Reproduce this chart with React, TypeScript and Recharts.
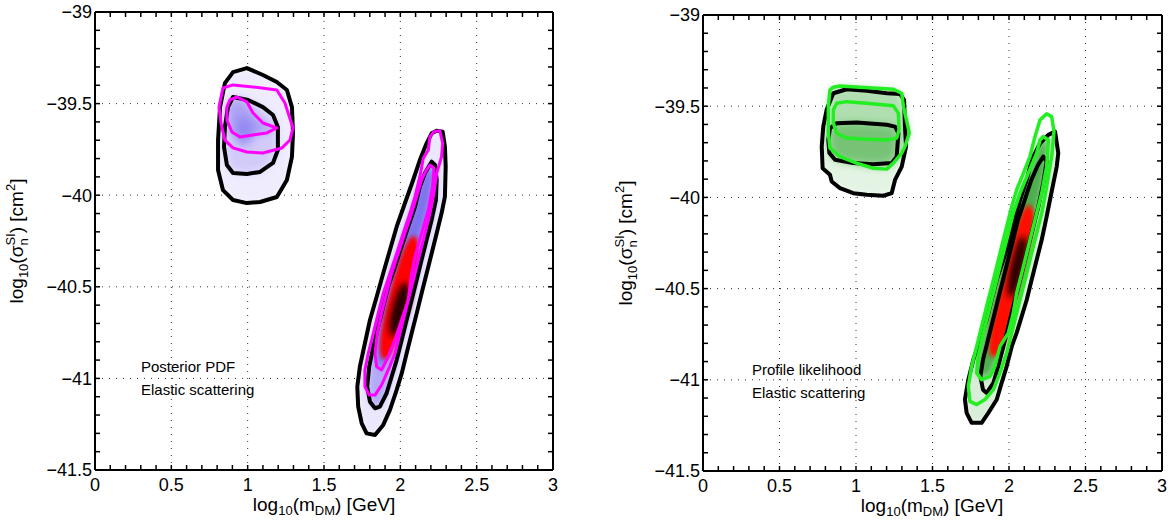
import React from 'react'
import { ScatterChart, Scatter, XAxis, YAxis, ReferenceLine } from 'recharts'

type P = [number, number]

const xTicks = [0, 0.1, 0.2, 0.3, 0.4, 0.5, 0.6, 0.7, 0.8, 0.9, 1, 1.1, 1.2, 1.3, 1.4, 1.5, 1.6, 1.7, 1.8, 1.9, 2, 2.1, 2.2, 2.3, 2.4, 2.5, 2.6, 2.7, 2.8, 2.9, 3]
const xMajor = [0, 0.5, 1, 1.5, 2, 2.5, 3]
const yTicks = [-41.5, -41.4, -41.3, -41.2, -41.1, -41, -40.9, -40.8, -40.7, -40.6, -40.5, -40.4, -40.3, -40.2, -40.1, -40, -39.9, -39.8, -39.7, -39.6, -39.5, -39.4, -39.3, -39.2, -39.1, -39]
const yMajor = [-41.5, -41, -40.5, -40, -39.5, -39]
const xGrid = [0.5, 1, 1.5, 2, 2.5]
const yGrid = [-39.5, -40, -40.5, -41]

// ---- posterior pdf (left) ----
const leftBlobOuter: P[] = [[0.904, -39.328], [0.995, -39.306], [1.1, -39.344], [1.191, -39.382], [1.257, -39.426], [1.29, -39.519], [1.297, -39.66], [1.29, -39.791], [1.257, -39.917], [1.191, -40.01], [1.081, -40.037], [0.995, -40.043], [0.904, -40.026], [0.838, -39.972], [0.806, -39.862], [0.806, -39.699], [0.819, -39.519], [0.851, -39.388]]
const leftBlobInner: P[] = [[0.904, -39.464], [1.002, -39.48], [1.1, -39.519], [1.166, -39.562], [1.198, -39.628], [1.198, -39.753], [1.166, -39.824], [1.081, -39.873], [0.995, -39.884], [0.904, -39.879], [0.864, -39.835], [0.845, -39.737], [0.851, -39.628], [0.871, -39.519]]
const leftBlobMagOuter: P[] = [[0.838, -39.415], [0.904, -39.398], [1.035, -39.409], [1.191, -39.426], [1.244, -39.497], [1.297, -39.633], [1.277, -39.699], [1.225, -39.742], [1.1, -39.77], [0.995, -39.764], [0.904, -39.742], [0.851, -39.699], [0.825, -39.606], [0.812, -39.519]]
const leftBlobMagInner: P[] = [[0.884, -39.48], [0.93, -39.464], [0.995, -39.491], [1.035, -39.551], [1.1, -39.606], [1.191, -39.633], [1.126, -39.66], [1.035, -39.671], [0.95, -39.682], [0.897, -39.655], [0.864, -39.59], [0.864, -39.519]]
const leftBlobCore: P[] = [[0.93, -39.56], [1.0, -39.57], [1.06, -39.64], [1.02, -39.72], [0.95, -39.74], [0.9, -39.68]]

const leftStreakOuter: P[] = [[2.238, -39.648], [2.277, -39.653], [2.292, -39.735], [2.297, -39.844], [2.292, -40.008], [2.27, -40.099], [2.238, -40.208], [2.205, -40.318], [2.172, -40.427], [2.139, -40.536], [2.107, -40.645], [2.074, -40.754], [2.041, -40.864], [2.009, -40.973], [1.976, -41.063], [1.932, -41.172], [1.888, -41.254], [1.834, -41.309], [1.779, -41.3], [1.747, -41.245], [1.724, -41.154], [1.718, -41.045], [1.735, -40.936], [1.768, -40.808], [1.801, -40.681], [1.845, -40.554], [1.888, -40.426], [1.932, -40.299], [1.976, -40.172], [2.03, -40.044], [2.084, -39.917], [2.128, -39.808], [2.172, -39.717], [2.205, -39.662]]
const leftStreakInner: P[] = [[2.205, -39.817], [2.227, -39.835], [2.238, -39.917], [2.233, -40.026], [2.205, -40.135], [2.172, -40.245], [2.139, -40.354], [2.107, -40.463], [2.074, -40.572], [2.041, -40.681], [2.009, -40.79], [1.976, -40.9], [1.943, -40.991], [1.91, -41.081], [1.866, -41.154], [1.834, -41.163], [1.801, -41.127], [1.783, -41.045], [1.796, -40.936], [1.823, -40.827], [1.855, -40.718], [1.888, -40.609], [1.921, -40.499], [1.965, -40.39], [2.008, -40.281], [2.052, -40.172], [2.096, -40.063], [2.128, -39.954], [2.161, -39.88]]
const leftStreakMagOuter: P[] = [[2.22, -39.653], [2.259, -39.648], [2.277, -39.717], [2.27, -39.79], [2.238, -39.88], [2.22, -39.99], [2.194, -40.099], [2.161, -40.208], [2.128, -40.318], [2.096, -40.427], [2.063, -40.536], [2.03, -40.645], [1.997, -40.754], [1.965, -40.863], [1.921, -40.954], [1.877, -41.036], [1.834, -41.091], [1.796, -41.091], [1.768, -41.045], [1.768, -40.954], [1.79, -40.863], [1.823, -40.754], [1.855, -40.645], [1.888, -40.536], [1.932, -40.427], [1.976, -40.318], [2.019, -40.208], [2.063, -40.099], [2.096, -40.008], [2.128, -39.899], [2.15, -39.799], [2.183, -39.753], [2.194, -39.681]]
const leftStreakMagInner: P[] = [[2.194, -39.835], [2.22, -39.853], [2.211, -39.954], [2.183, -40.081], [2.139, -40.208], [2.096, -40.336], [2.074, -40.427], [2.052, -40.572], [2.008, -40.681], [1.965, -40.79], [1.921, -40.881], [1.877, -40.954], [1.845, -40.936], [1.834, -40.863], [1.849, -40.754], [1.877, -40.645], [1.91, -40.536], [1.943, -40.427], [1.986, -40.318], [2.03, -40.208], [2.074, -40.099], [2.107, -40.008], [2.139, -39.917], [2.172, -39.862]]
const leftCoreRed: P[] = [[2.09, -40.2], [2.13, -40.27], [2.11, -40.42], [2.075, -40.57], [2.03, -40.69], [1.975, -40.8], [1.92, -40.91], [1.862, -40.89], [1.865, -40.77], [1.895, -40.65], [1.93, -40.53], [1.975, -40.4], [2.03, -40.27]]
const leftCoreDark: P[] = [[2.04, -40.46], [2.07, -40.53], [2.035, -40.65], [1.99, -40.75], [1.94, -40.785], [1.92, -40.72], [1.95, -40.6], [1.99, -40.5]]

// ---- profile likelihood (right) ----
const rightBlobOuter: P[] = [[0.852, -39.429], [0.939, -39.407], [1.07, -39.415], [1.201, -39.429], [1.288, -39.433], [1.314, -39.465], [1.32, -39.612], [1.327, -39.721], [1.299, -39.831], [1.255, -39.904], [1.233, -39.977], [1.179, -39.991], [1.07, -39.986], [0.982, -39.977], [0.895, -39.949], [0.841, -39.913], [0.83, -39.876], [0.782, -39.84], [0.776, -39.721], [0.786, -39.612], [0.808, -39.52]]
const rightBlobInner: P[] = [[0.874, -39.593], [1.004, -39.59], [1.201, -39.602], [1.255, -39.612], [1.277, -39.648], [1.266, -39.776], [1.233, -39.812], [1.113, -39.818], [0.982, -39.812], [0.863, -39.794], [0.826, -39.757], [0.819, -39.685], [0.83, -39.621]]
const rightBlobGreenOuter: P[] = [[0.852, -39.396], [0.895, -39.389], [1.026, -39.396], [1.244, -39.407], [1.299, -39.429], [1.31, -39.502], [1.342, -39.621], [1.348, -39.648], [1.32, -39.721], [1.299, -39.757], [1.244, -39.812], [1.201, -39.845], [1.113, -39.84], [1.004, -39.812], [0.895, -39.776], [0.83, -39.73], [0.819, -39.648], [0.819, -39.502], [0.83, -39.411]]
const rightBlobGreenInner: P[] = [[0.874, -39.484], [0.939, -39.475], [1.07, -39.484], [1.244, -39.498], [1.277, -39.538], [1.281, -39.63], [1.266, -39.675], [1.201, -39.685], [1.07, -39.681], [0.939, -39.675], [0.874, -39.648], [0.852, -39.593], [0.852, -39.52]]

const rightStreakOuter: P[] = [[2.301, -39.639], [2.322, -39.757], [2.312, -39.831], [2.29, -39.922], [2.268, -40.013], [2.246, -40.105], [2.214, -40.232], [2.181, -40.342], [2.148, -40.451], [2.116, -40.561], [2.083, -40.652], [2.05, -40.743], [2.018, -40.817], [1.985, -40.926], [1.952, -41.017], [1.92, -41.108], [1.865, -41.181], [1.821, -41.236], [1.756, -41.236], [1.723, -41.181], [1.712, -41.108], [1.734, -40.999], [1.767, -40.89], [1.81, -40.78], [1.854, -40.67], [1.887, -40.561], [1.92, -40.451], [1.963, -40.342], [2.007, -40.232], [2.039, -40.123], [2.072, -40.013], [2.116, -39.904], [2.148, -39.794], [2.203, -39.703], [2.257, -39.657]]
const rightStreakInner: P[] = [[2.224, -39.776], [2.246, -39.803], [2.224, -39.922], [2.192, -40.05], [2.159, -40.159], [2.126, -40.269], [2.094, -40.378], [2.061, -40.488], [2.028, -40.597], [1.996, -40.707], [1.963, -40.817], [1.93, -40.926], [1.898, -41.017], [1.854, -41.072], [1.83, -41.054], [1.813, -40.981], [1.83, -40.89], [1.863, -40.78], [1.896, -40.67], [1.928, -40.561], [1.961, -40.451], [1.994, -40.342], [2.027, -40.232], [2.059, -40.123], [2.103, -40.013], [2.146, -39.904], [2.19, -39.821]]
const rightStreakGreenOuter: P[] = [[2.246, -39.542], [2.279, -39.557], [2.294, -39.639], [2.279, -39.776], [2.257, -39.885], [2.235, -39.995], [2.214, -40.086], [2.181, -40.196], [2.148, -40.305], [2.116, -40.415], [2.083, -40.524], [2.05, -40.634], [2.018, -40.743], [1.985, -40.853], [1.941, -40.962], [1.898, -41.054], [1.843, -41.108], [1.789, -41.136], [1.745, -41.118], [1.734, -41.036], [1.756, -40.926], [1.789, -40.817], [1.821, -40.707], [1.854, -40.597], [1.887, -40.488], [1.92, -40.378], [1.952, -40.269], [1.985, -40.159], [2.018, -40.05], [2.05, -39.958], [2.094, -39.867], [2.137, -39.776], [2.17, -39.666], [2.203, -39.575]]
const rightStreakGreenInner: P[] = [[2.224, -39.666], [2.257, -39.685], [2.246, -39.831], [2.214, -39.977], [2.181, -40.086], [2.148, -40.196], [2.116, -40.305], [2.083, -40.415], [2.05, -40.524], [2.028, -40.634], [1.996, -40.743], [1.941, -40.817], [1.908, -40.926], [1.876, -40.981], [1.821, -40.999], [1.789, -40.962], [1.799, -40.871], [1.832, -40.743], [1.865, -40.634], [1.898, -40.524], [1.93, -40.415], [1.963, -40.305], [1.996, -40.196], [2.028, -40.086], [2.072, -39.977], [2.126, -39.867], [2.181, -39.757], [2.203, -39.685]]
const rightCoreRed: P[] = [[2.13, -40.02], [2.172, -40.08], [2.16, -40.196], [2.128, -40.305], [2.095, -40.415], [2.062, -40.524], [2.03, -40.634], [1.997, -40.743], [1.962, -40.83], [1.905, -40.89], [1.862, -40.86], [1.873, -40.743], [1.906, -40.634], [1.94, -40.524], [1.973, -40.415], [2.006, -40.305], [2.04, -40.196], [2.075, -40.09]]
const rightCoreDark: P[] = [[2.094, -40.2], [2.125, -40.25], [2.092, -40.378], [2.058, -40.49], [2.02, -40.56], [1.988, -40.54], [1.997, -40.433], [2.03, -40.323], [2.058, -40.24]]

const FONT = '"Liberation Sans", Arial, Helvetica, sans-serif'
const axisStyle = { stroke: '#000', strokeWidth: 2 }
const TICK = 5

const pts = (a: P[]) => a.map(([x, y]) => ({ x, y }))
const noDot = () => <g />
const fmtY = (v: number) => '\u2212' + String(Math.abs(v))

function BottomTick({ x, y, payload }: any) {
  const major = xMajor.includes(payload.value)
  return (
    <g>
      <line x1={x} x2={x} y1={y} y2={y - TICK} stroke="#000" strokeWidth={1.5} />
      {major && <text x={x} y={y + 21} textAnchor="middle" fontSize={18} fontFamily={FONT} fill="#000">{String(payload.value)}</text>}
    </g>
  )
}
function TopTick({ x, y }: any) {
  return <line x1={x} x2={x} y1={y} y2={y + TICK} stroke="#000" strokeWidth={1.5} />
}
function LeftTick({ x, y, payload }: any) {
  const major = yMajor.includes(payload.value)
  return (
    <g>
      <line x1={x} x2={x + TICK} y1={y} y2={y} stroke="#000" strokeWidth={1.5} />
      {major && <text x={x - 3} y={y} dy="0.36em" textAnchor="end" fontSize={18} fontFamily={FONT} fill="#000">{fmtY(payload.value)}</text>}
    </g>
  )
}
function RightTick({ x, y }: any) {
  return <line x1={x} x2={x - TICK} y1={y} y2={y} stroke="#000" strokeWidth={1.5} />
}

type Fill = { d: P[]; fill: string; blur: number; op?: number }
type Line = { d: P[]; stroke: string; w: number }

function Panel({ left, width, margin, fills, lines }: { left: number; width: number; margin: any; fills: Fill[]; lines: Line[] }) {
  return (
    <div style={{ position: 'absolute', left, top: 0 }}>
      <ScatterChart width={width} height={520} margin={margin}>
        <XAxis xAxisId="b" dataKey="x" type="number" domain={[0, 3]} allowDataOverflow ticks={xTicks} interval={0}
          height={10} tickSize={0} tickMargin={0} tickLine={false} axisLine={axisStyle} tick={(p: any) => <BottomTick {...p} />} />
        <XAxis xAxisId="t" orientation="top" dataKey="x" type="number" domain={[0, 3]} allowDataOverflow ticks={xTicks} interval={0}
          height={10} tickSize={0} tickMargin={0} tickLine={false} axisLine={axisStyle} tick={(p: any) => <TopTick {...p} />} />
        <YAxis yAxisId="l" dataKey="y" type="number" domain={[-41.5, -39]} allowDataOverflow ticks={yTicks} interval={0}
          width={10} tickSize={0} tickMargin={0} tickLine={false} axisLine={axisStyle} tick={(p: any) => <LeftTick {...p} />} />
        <YAxis yAxisId="r" orientation="right" dataKey="y" type="number" domain={[-41.5, -39]} allowDataOverflow ticks={yTicks} interval={0}
          width={10} tickSize={0} tickMargin={0} tickLine={false} axisLine={axisStyle} tick={(p: any) => <RightTick {...p} />} />
        {fills.map((f, i) => (
          <Scatter key={'f' + i} xAxisId="b" yAxisId="l" data={pts(f.d)} shape={noDot} isAnimationActive={false}
            line={{ stroke: 'none', fill: f.fill, fillOpacity: f.op ?? 1, filter: `url(#blur${f.blur})` }} lineJointType="basisClosed" />
        ))}
        {xGrid.map((v) => (
          <ReferenceLine key={'gx' + v} x={v} xAxisId="b" yAxisId="l" stroke="#333" strokeWidth={1} strokeDasharray="1 6" />
        ))}
        {yGrid.map((v) => (
          <ReferenceLine key={'gy' + v} y={v} xAxisId="b" yAxisId="l" stroke="#333" strokeWidth={1} strokeDasharray="1 6" />
        ))}
        {lines.map((l, i) => (
          <Scatter key={'l' + i} xAxisId="b" yAxisId="l" data={pts(l.d)} shape={noDot} isAnimationActive={false}
            line={{ stroke: l.stroke, strokeWidth: l.w, fill: 'none', strokeLinejoin: 'round' }} lineJointType="linearClosed" />
        ))}
      </ScatterChart>
    </div>
  )
}

const leftFills: Fill[] = [
  { d: leftBlobOuter, fill: '#efecfe', blur: 2 },
  { d: leftBlobInner, fill: '#d2cbfa', blur: 4 },
  { d: leftBlobMagInner, fill: '#a89ef4', blur: 4, op: 0.9 },
  { d: leftBlobCore, fill: '#8d82f0', blur: 5, op: 0.8 },
  { d: leftStreakOuter, fill: '#ebe8fd', blur: 2 },
  { d: leftStreakInner, fill: '#b3abf7', blur: 3 },
  { d: leftStreakMagInner, fill: '#7d72ee', blur: 3 },
  { d: leftCoreRed, fill: '#ff0000', blur: 2 },
  { d: leftCoreDark, fill: '#200000', blur: 3 },
]
const leftLines: Line[] = [
  { d: leftBlobOuter, stroke: '#000', w: 4 },
  { d: leftBlobInner, stroke: '#000', w: 4 },
  { d: leftStreakOuter, stroke: '#000', w: 4 },
  { d: leftStreakInner, stroke: '#000', w: 4 },
  { d: leftBlobMagOuter, stroke: '#ff00ff', w: 3 },
  { d: leftBlobMagInner, stroke: '#ff00ff', w: 3 },
  { d: leftStreakMagOuter, stroke: '#ff00ff', w: 3 },
  { d: leftStreakMagInner, stroke: '#ff00ff', w: 3 },
]
const rightFills: Fill[] = [
  { d: rightBlobOuter, fill: '#e4f4e4', blur: 2 },
  { d: rightBlobGreenOuter, fill: '#b0deb0', blur: 4 },
  { d: rightBlobInner, fill: '#76c376', blur: 5 },
  { d: rightStreakOuter, fill: '#d8eed8', blur: 2 },
  { d: rightStreakGreenInner, fill: '#4dae4d', blur: 3 },
  { d: rightCoreRed, fill: '#ff1000', blur: 2 },
  { d: rightCoreDark, fill: '#1a0000', blur: 3 },
]
const rightLines: Line[] = [
  { d: rightBlobOuter, stroke: '#000', w: 4 },
  { d: rightBlobInner, stroke: '#000', w: 4 },
  { d: rightStreakOuter, stroke: '#000', w: 4 },
  { d: rightStreakInner, stroke: '#000', w: 4 },
  { d: rightBlobGreenOuter, stroke: '#22ee22', w: 3.5 },
  { d: rightBlobGreenInner, stroke: '#22ee22', w: 3.5 },
  { d: rightStreakGreenOuter, stroke: '#22ee22', w: 3.5 },
  { d: rightStreakGreenInner, stroke: '#22ee22', w: 3.5 },
]

function XTitle({ x, y }: { x: number; y: number }) {
  return (
    <text x={x} y={y} textAnchor="middle" fontSize={19} fontFamily={FONT} fill="#000">
      log<tspan dy={4} fontSize={13}>10</tspan><tspan dy={-4}>(m</tspan><tspan dy={4} fontSize={13}>DM</tspan><tspan dy={-4}>) [GeV]</tspan>
    </text>
  )
}
function YTitle({ x, y }: { x: number; y: number }) {
  return (
    <text x={x} y={y} textAnchor="middle" fontSize={19} fontFamily={FONT} fill="#000" transform={`rotate(-90 ${x} ${y})`}>
      log<tspan dy={5} fontSize={13}>10</tspan><tspan dy={-5}>(σ</tspan><tspan dy={-8} fontSize={13}>SI</tspan>
      <tspan dy={13} dx={-12.3} fontSize={13}>n</tspan><tspan dy={-5} dx={5.1}>) [cm</tspan><tspan dy={-8} fontSize={13}>2</tspan><tspan dy={8}>]</tspan>
    </text>
  )
}

export default function App() {
  return (
    <div style={{ position: 'absolute', left: 0, top: 0, width: 1173, height: 520, background: '#fff', overflow: 'hidden' }}>
      <svg width={0} height={0} style={{ position: 'absolute' }}>
        <defs>
          {[2, 3, 4, 5].map((b) => (
            <filter key={b} id={`blur${b}`} x="-50%" y="-50%" width="200%" height="200%">
              <feGaussianBlur stdDeviation={b} />
            </filter>
          ))}
        </defs>
      </svg>
      <Panel left={0} width={580} margin={{ top: 2, right: 17, bottom: 40, left: 85 }} fills={leftFills} lines={leftLines} />
      <Panel left={600} width={573} margin={{ top: 5, right: 1, bottom: 39, left: 93 }} fills={rightFills} lines={rightLines} />
      <svg width={1173} height={520} style={{ position: 'absolute', left: 0, top: 0, pointerEvents: 'none' }}>
        <g fontFamily={FONT} fontSize={15} fill="#000">
          <text x={141} y={372}>Posterior PDF</text>
          <text x={141} y={395}>Elastic scattering</text>
          <text x={752} y={375}>Profile likelihood</text>
          <text x={752} y={398}>Elastic scattering</text>
        </g>
        <XTitle x={324} y={511} />
        <XTitle x={932} y={512} />
        <YTitle x={23} y={241} />
        <YTitle x={632} y={243} />
      </svg>
    </div>
  )
}
